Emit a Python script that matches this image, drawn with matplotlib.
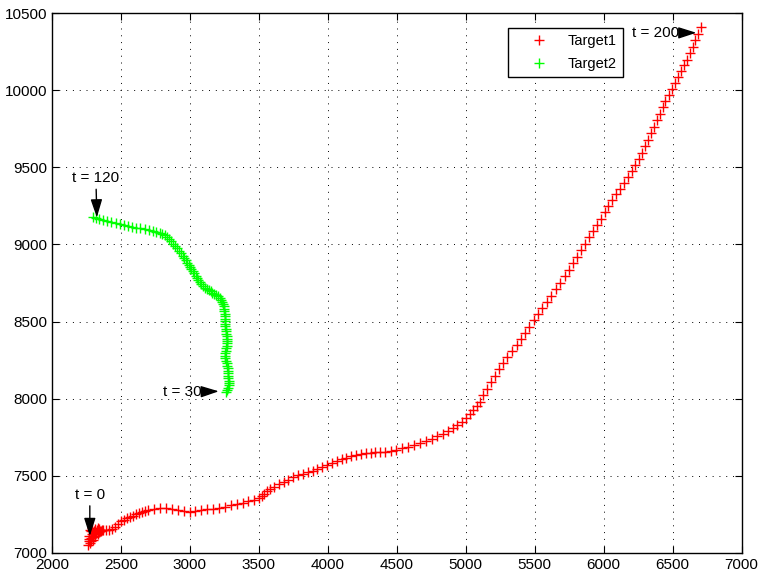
import numpy as np
import matplotlib.pyplot as plt

plt.rcParams['font.family'] = ['Liberation Sans', 'DejaVu Sans']

# Target1 track, t = 0 .. 200
t1_x = [2270, 2262, 2281, 2274, 2290, 2266, 2286, 2300, 2277, 2296,
        2312, 2288, 2320, 2305, 2332, 2316, 2340, 2326, 2282, 2268,
        2298, 2310, 2336, 2350, 2344, 2355, 2362,
        2370, 2392, 2414, 2436, 2458, 2480, 2502, 2524, 2546, 2568,
        2590, 2612, 2634, 2656, 2678, 2700,
        2740, 2783, 2826, 2869, 2912, 2955, 2998, 3041, 3084, 3127,
        3170, 3213, 3256, 3299, 3342,
        3385, 3425, 3465, 3500, 3520, 3540, 3558, 3580, 3610, 3645,
        3680, 3715, 3750, 3785, 3820, 3855, 3890, 3925, 3960, 3995,
        4030, 4065, 4100, 4135, 4170, 4205, 4240, 4275, 4310, 4345,
        4380, 4415,
        4455, 4498, 4541, 4584, 4627, 4670, 4712, 4753, 4793, 4832,
        4870, 4906, 4940, 4972, 5002, 5030, 5056, 5080, 5102,
        5128, 5155, 5182, 5210, 5240, 5270, 5302, 5335, 5368, 5400,
        5432, 5462, 5492, 5522, 5555, 5588, 5620, 5652, 5684, 5716,
        5748, 5778, 5808, 5838, 5866, 5894, 5922, 5950, 5978, 6006,
        6034, 6062, 6092, 6120, 6148, 6175, 6202, 6228, 6253, 6277,
        6300, 6322, 6343, 6364, 6385, 6406, 6427, 6448, 6470, 6493,
        6516, 6540, 6563, 6585, 6606, 6626, 6646, 6665, 6685, 6705]
t1_y = [7080, 7050, 7100, 7065, 7120, 7090, 7140, 7105, 7150, 7125,
        7110, 7160, 7130, 7145, 7120, 7155, 7135, 7150, 7075, 7110,
        7085, 7140, 7160, 7140, 7155, 7145, 7150,
        7148, 7150, 7152, 7158, 7168, 7185, 7205, 7215, 7224, 7233,
        7241, 7250, 7258, 7265, 7272, 7280,
        7288, 7292, 7290, 7284, 7278, 7272, 7268, 7270, 7276, 7282,
        7288, 7294, 7300, 7308, 7315,
        7325, 7335, 7345, 7356, 7372, 7385, 7400, 7415, 7430, 7445,
        7460, 7475, 7490, 7503, 7515, 7527, 7530, 7543, 7556, 7568,
        7586, 7597, 7608, 7618, 7627, 7635, 7642, 7647, 7650, 7652,
        7654, 7656,
        7660, 7668, 7678, 7690, 7702, 7714, 7728, 7742, 7757, 7773,
        7790, 7808, 7828, 7850, 7873, 7898, 7925, 7952, 7980,
        8022, 8065, 8108, 8150, 8192, 8232, 8272, 8310, 8348, 8388,
        8428, 8468, 8508, 8548, 8588, 8628, 8668, 8710, 8752, 8794,
        8836, 8878, 8920, 8962, 9004, 9046, 9088, 9128, 9168, 9208,
        9248, 9288, 9325, 9362, 9400, 9438, 9476, 9514, 9554, 9594,
        9636, 9678, 9720, 9762, 9804, 9846, 9888, 9930, 9970, 10008,
        10046, 10084, 10122, 10160, 10198, 10238, 10280, 10322, 10364, 10410]

# Target2 track, t = 30 .. 120
t2_x = [3262, 3270, 3278, 3282, 3284, 3282, 3280, 3278, 3277, 3276,
        3274, 3270, 3266, 3262, 3258, 3257, 3258, 3261, 3264, 3266,
        3267, 3268, 3268, 3267, 3265, 3263, 3260, 3258, 3256, 3255,
        3254, 3253, 3252, 3250, 3248, 3245, 3240, 3234, 3226, 3216,
        3205, 3192, 3178, 3164, 3150, 3136, 3122, 3108, 3095, 3083,
        3072, 3062, 3052, 3042, 3032, 3022, 3012, 3002, 2992, 2982,
        2972, 2960, 2948, 2936, 2922, 2908, 2894, 2880, 2865, 2850,
        2834, 2818, 2800, 2782,
        2758, 2730, 2702, 2672, 2642, 2612, 2582, 2552, 2522, 2492,
        2462, 2432, 2402, 2372, 2344, 2318, 2297]
t2_y = [8045, 8058, 8072, 8088, 8102, 8118, 8134, 8150, 8166, 8182,
        8198, 8214, 8230, 8246, 8262, 8278, 8294, 8310, 8326, 8342,
        8358, 8374, 8390, 8406, 8422, 8438, 8454, 8470, 8486, 8502,
        8518, 8534, 8550, 8566, 8582, 8598, 8614, 8628, 8642, 8654,
        8664, 8672, 8680, 8688, 8696, 8704, 8712, 8720, 8730, 8742,
        8756, 8770, 8784, 8798, 8812, 8826, 8840, 8854, 8868, 8882,
        8896, 8910, 8926, 8942, 8958, 8974, 8990, 9006, 9020, 9034,
        9046, 9058, 9068, 9076,
        9083, 9089, 9094, 9099, 9104, 9109, 9115, 9122, 9128, 9135,
        9142, 9148, 9154, 9160, 9166, 9172, 9178]

# (label, text position, arrow tip)
notes = [('t = 0', (2275, 7378), (2275, 7110)),
         ('t = 120', (2319, 9430), (2326, 9175)),
         ('t = 30', (2945, 8043), (3210, 8048)),
         ('t = 200', (6373, 10370), (6672, 10372))]

fig = plt.figure(figsize=(7.63, 5.81), dpi=100)
ax = fig.add_axes([0.068, 0.0482, 0.904, 0.9294])

ax.plot(t1_x, t1_y, '+', color=(1, 0, 0), ms=7.5, mew=1, label='Target1')
ax.plot(t2_x, t2_y, '+', color=(0, 1, 0), ms=7.5, mew=1, label='Target2')

for txt, pos, tip in notes:
    ax.annotate(txt, xy=tip, xytext=pos, ha='center', va='center', fontsize=11,
                arrowprops=dict(arrowstyle='-|>,head_length=1.0,head_width=0.32',
                                color='k', lw=1, shrinkA=1, shrinkB=0))

ax.set_xlim(2000, 7000)
ax.set_ylim(7000, 10500)
ax.set_xticks(np.arange(2000, 7001, 500))
ax.set_yticks(np.arange(7000, 10501, 500))
ax.tick_params(direction='in', length=5, top=True, right=True, labelsize=11)
ax.grid(True, color='k', linestyle=(0, (1, 6)), lw=0.7)
for s in ax.spines.values():
    s.set_linewidth(1)

leg = ax.legend(loc='upper right', bbox_to_anchor=(0.8275, 0.972), borderaxespad=0,
                fancybox=False, edgecolor='k', fontsize=10.5, handletextpad=0.3,
                handlelength=3.4, labelspacing=0.6, framealpha=1)
leg.get_frame().set_linewidth(1)

fig.savefig('out.png', dpi=100)
